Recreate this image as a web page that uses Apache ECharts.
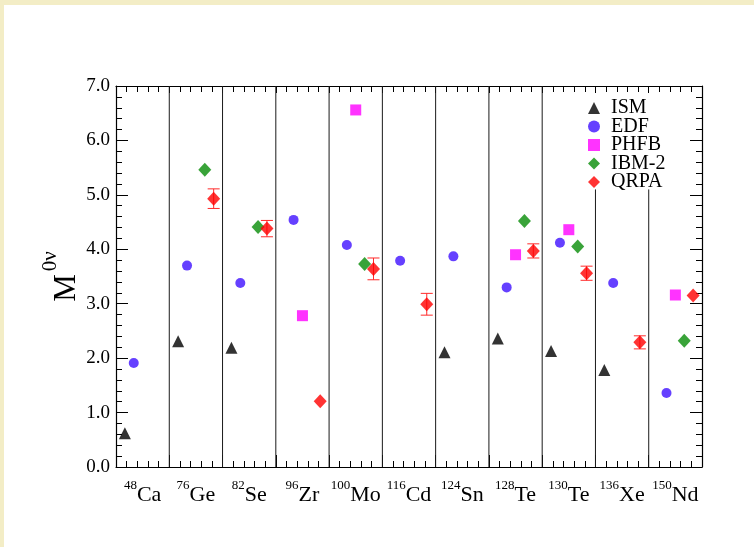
<!DOCTYPE html>
<html>
<head>
<meta charset="utf-8">
<script src="https://cdn.jsdelivr.net/npm/echarts@6/dist/echarts.min.js"></script>
<style>
  html, body { margin: 0; padding: 0; background: #ffffff; }
  #chart { position: absolute; left: 0; top: 0; width: 754px; height: 547px; }
  .strip { position: absolute; background: #f3edc6; pointer-events: none; }
</style>
</head>
<body>
<div id="chart"></div>
<div class="strip" style="left:0;top:0;width:754px;height:5px;"></div>
<div class="strip" style="left:0;top:0;width:4px;height:547px;"></div>
<script>
// Nuclei (mass number + element symbol)
const nuclideMass   = ['48', '76', '82', '96', '100', '116', '124', '128', '130', '136', '150'];
const nuclideSymbol = ['Ca', 'Ge', 'Se', 'Zr', 'Mo', 'Cd', 'Sn', 'Te', 'Te', 'Xe', 'Nd'];

// Nuclear matrix elements M^0ν per method (null = no value)
const ismValues  = [0.62, 2.31, 2.19, null, null, null, 2.11, 2.36, 2.13, 1.78, null];
const edfValues  = [1.91, 3.70, 3.38, 4.54, 4.08, 3.79, 3.87, 3.30, 4.12, 3.38, 1.36];
const phfbValues = [null, null, null, 2.78, 6.56, null, null, 3.90, 4.36, null, 3.16];
const ibm2Values = [null, 5.46, 4.41, null, 3.73, null, null, 4.52, 4.05, null, 2.32];
const qrpaValues = [null, 4.93, 4.38, 1.21, 3.64, 2.99, null, 3.97, 3.56, 2.29, 3.15];
const qrpaErrors = [null, 0.18, 0.15, null, 0.20, 0.20, null, 0.13, 0.13, 0.12, null];

// Y axis ticks
const yMin = 0, yMax = 7, yStep = 1;

// Column separators: boundary index and upper end (the last two stop under the legend)
const separatorX   = [1, 2, 3, 4, 5, 6, 7, 8, 9, 10];
const separatorTop = [7, 7, 7, 7, 7, 7, 7, 7, 5.1, 5.1];

// Horizontal slot of each method inside a nucleus column
const slot = { ISM: 1 / 6, EDF: 2 / 6, PHFB: 3 / 6, 'IBM-2': 4 / 6, QRPA: 5 / 6 };

const serif = 'Liberation Serif, Times New Roman, serif';

function points(values, name) {
  const out = [];
  values.forEach((v, i) => { if (v != null) out.push([i + slot[name], v]); });
  return out;
}

const errorData = [];
qrpaValues.forEach((v, i) => {
  if (v != null && qrpaErrors[i] != null) errorData.push([i + slot.QRPA, v, qrpaErrors[i]]);
});

const chart = echarts.init(document.getElementById('chart'), null, { renderer: 'canvas' });

const tickCommon = (len) => ({ show: true, inside: true, length: len, lineStyle: { color: '#000', width: 1 } });
const minorCommon = { show: true, splitNumber: 5, length: 6, lineStyle: { color: '#000', width: 1 } };
const lineCommon = { show: true, onZero: false, lineStyle: { color: '#000', width: 1.2 } };

chart.setOption({
  animation: false,
  backgroundColor: 'transparent',
  grid: { left: 116, top: 86, width: 586, height: 381 },
  legend: {
    orient: 'vertical',
    left: 583,
    top: 93,
    itemWidth: 12,
    itemHeight: 12,
    itemGap: -1.5,
    textStyle: { fontFamily: serif, fontSize: 20, color: '#000', padding: [0, 0, 0, 6] },
    data: [
      { name: 'ISM', icon: 'triangle' },
      { name: 'EDF', icon: 'circle' },
      { name: 'PHFB', icon: 'rect' },
      { name: 'IBM-2', icon: 'diamond' },
      { name: 'QRPA', icon: 'diamond' }
    ]
  },
  xAxis: [
    {
      type: 'value', position: 'bottom', min: 0, max: nuclideMass.length, interval: 1,
      axisLine: lineCommon, axisTick: tickCommon(12), minorTick: minorCommon,
      axisLabel: { show: false }, splitLine: { show: false }
    },
    {
      type: 'category', position: 'bottom', data: nuclideSymbol,
      axisLine: { show: false }, axisTick: { show: false },
      axisLabel: {
        interval: 0,
        hideOverlap: false,
        margin: 12,
        formatter: (val, idx) => `{s|${nuclideMass[idx]}}{e|${nuclideSymbol[idx]}}`,
        rich: {
          s: { fontFamily: serif, fontSize: 13, color: '#000', verticalAlign: 'top', lineHeight: 15 },
          e: { fontFamily: serif, fontSize: 22, color: '#000', lineHeight: 32 }
        }
      }
    },
    {
      type: 'value', position: 'top', min: 0, max: nuclideMass.length, interval: 1,
      axisLine: lineCommon, axisTick: tickCommon(7), minorTick: minorCommon,
      axisLabel: { show: false }, splitLine: { show: false }
    }
  ],
  yAxis: [
    {
      type: 'value', position: 'left', min: yMin, max: yMax, interval: yStep,
      axisLine: lineCommon, axisTick: tickCommon(12), minorTick: minorCommon,
      splitLine: { show: false },
      axisLabel: {
        margin: 6, fontFamily: serif, fontSize: 19, color: '#000',
        formatter: (v) => v.toFixed(1)
      },
      name: '{m|M}{s|0ν}',
      nameLocation: 'middle',
      nameRotate: 90,
      nameGap: 22,
      nameMoveOverlap: false,
      nameTextStyle: {
        rich: {
          m: { fontFamily: serif, fontSize: 31, color: '#000', lineHeight: 54 },
          s: { fontFamily: serif, fontSize: 21, color: '#000', lineHeight: 20, verticalAlign: 'top', padding: [0, 0, 0, 3] }
        }
      }
    },
    {
      type: 'value', position: 'right', min: yMin, max: yMax, interval: yStep,
      axisLine: lineCommon, axisTick: tickCommon(12), minorTick: minorCommon,
      splitLine: { show: false }, axisLabel: { show: false }
    }
  ],
  series: [
    {
      name: 'separators',
      type: 'custom',
      xAxisIndex: 0, yAxisIndex: 0,
      silent: true, z: 1,
      data: separatorX.map((x, i) => [x, separatorTop[i]]),
      renderItem: (params, api) => {
        const x = api.value(0);
        const p0 = api.coord([x, yMin]);
        const p1 = api.coord([x, api.value(1)]);
        return {
          type: 'line',
          shape: { x1: p0[0], y1: p0[1], x2: p1[0], y2: p1[1] },
          style: { stroke: '#1a1a1a', lineWidth: 1 }
        };
      }
    },
    {
      name: 'QRPA errors',
      type: 'custom',
      xAxisIndex: 0, yAxisIndex: 0,
      silent: true, z: 2,
      data: errorData,
      renderItem: (params, api) => {
        const x = api.value(0), y = api.value(1), e = api.value(2);
        const hi = api.coord([x, y + e]);
        const lo = api.coord([x, y - e]);
        const cap = 6;
        const st = { stroke: '#ff2a2a', lineWidth: 1 };
        return {
          type: 'group',
          children: [
            { type: 'line', shape: { x1: hi[0], y1: hi[1], x2: lo[0], y2: lo[1] }, style: st },
            { type: 'line', shape: { x1: hi[0] - cap, y1: hi[1], x2: hi[0] + cap, y2: hi[1] }, style: st },
            { type: 'line', shape: { x1: lo[0] - cap, y1: lo[1], x2: lo[0] + cap, y2: lo[1] }, style: st }
          ]
        };
      }
    },
    {
      name: 'ISM', type: 'scatter', xAxisIndex: 0, yAxisIndex: 0, z: 5,
      symbol: 'triangle', symbolSize: [12, 12],
      itemStyle: { color: '#000000' },
      data: points(ismValues, 'ISM')
    },
    {
      name: 'EDF', type: 'scatter', xAxisIndex: 0, yAxisIndex: 0, z: 5,
      symbol: 'circle', symbolSize: 10,
      itemStyle: { color: '#3f10ff' },
      data: points(edfValues, 'EDF')
    },
    {
      name: 'PHFB', type: 'scatter', xAxisIndex: 0, yAxisIndex: 0, z: 5,
      symbol: 'rect', symbolSize: 11,
      itemStyle: { color: '#ff00ff' },
      data: points(phfbValues, 'PHFB')
    },
    {
      name: 'IBM-2', type: 'scatter', xAxisIndex: 0, yAxisIndex: 0, z: 5,
      symbol: 'diamond', symbolSize: [13, 14],
      itemStyle: { color: '#078c07' },
      data: points(ibm2Values, 'IBM-2')
    },
    {
      name: 'QRPA', type: 'scatter', xAxisIndex: 0, yAxisIndex: 0, z: 6,
      symbol: 'diamond', symbolSize: [13, 14],
      itemStyle: { color: '#ff0000' },
      data: points(qrpaValues, 'QRPA')
    }
  ]
});
</script>
</body>
</html>
